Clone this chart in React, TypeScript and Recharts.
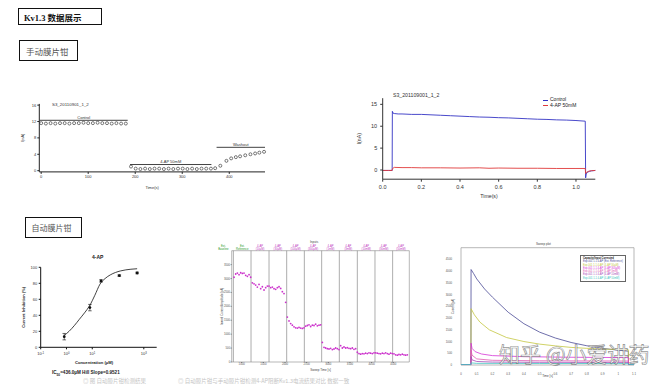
import React from 'react'
import {
  ComposedChart, Line, Scatter, XAxis, YAxis, ReferenceLine, ReferenceArea, ErrorBar, Legend,
} from 'recharts'

const FONT = '"Liberation Sans", Arial, "Noto Sans CJK SC", sans-serif'

// ---- manual patch clamp: time course (nA vs s)
const ctrlTime = [0, 10, 20, 30, 40, 50, 60, 70, 80, 90, 100, 110, 120, 130, 140, 150, 160, 170, 180]
const ctrlCurrent = [11.6, 11.5, 11.6, 11.5, 11.6, 11.6, 11.5, 11.6, 11.6, 11.7, 11.6, 11.6, 11.7, 11.6, 11.6, 11.5, 11.6, 11.5, 11.5]
const apTime = [191, 201, 211, 221, 231, 241, 251, 261, 271, 281, 291, 301, 311, 321, 331, 341, 351, 361]
const apCurrent = [1.0, 0.5, 0.4, 0.5, 0.4, 0.5, 0.5, 0.4, 0.5, 0.4, 0.5, 0.5, 0.4, 0.5, 0.4, 0.5, 0.5, 0.5]
const washTime = [370, 381, 394, 404, 414, 423, 434, 445, 455, 464, 474]
const washCurrent = [0.6, 1.2, 2.4, 3.0, 3.3, 3.5, 3.75, 4.0, 4.2, 4.4, 4.6]
const phaseNames = ['Control', '4-AP 50mM', 'Washout']
const phaseStart = [-3, 189, 373]
const phaseEnd = [184, 362, 476]
const phaseLevel = [12.3, 1.5, 5.7]

// ---- manual patch clamp: current traces
const traceNames = ['Control', '4-AP 50mM']
const traceColors = ['#3434c4', '#e03a3a']
const ctrlTraceT = [0, 0.03, 0.049, 0.05, 0.053, 0.06, 0.08, 0.1, 0.15, 0.2, 0.25, 0.3, 0.35, 0.4, 0.45, 0.5, 0.55, 0.6, 0.65, 0.7, 0.75, 0.8, 0.85, 0.9, 0.95, 1.0, 1.048, 1.05, 1.053, 1.06, 1.07, 1.08, 1.1]
const ctrlTraceI = [-0.1, -0.1, -0.1, 13.4, 13.0, 12.9, 12.8, 12.8, 12.7, 12.7, 12.6, 12.5, 12.4, 12.3, 12.2, 12.1, 12.05, 11.95, 11.9, 11.8, 11.7, 11.6, 11.55, 11.45, 11.4, 11.3, 11.15, -1.8, -0.9, -0.5, -0.3, -0.2, -0.1]
const apTraceT = [0, 0.03, 0.049, 0.05, 0.055, 0.06, 0.1, 0.15, 0.2, 0.3, 0.4, 0.5, 0.55, 0.6, 0.7, 0.8, 0.9, 1.0, 1.048, 1.05, 1.055, 1.065, 1.08, 1.1]
const apTraceI = [-0.1, -0.1, -0.1, 0.2, 0.5, 0.6, 0.55, 0.55, 0.5, 0.5, 0.45, 0.5, 0.4, 0.45, 0.4, 0.4, 0.35, 0.35, 0.35, -0.8, -0.5, -0.3, -0.15, -0.1]

// ---- automated: dose response
const doseConc = [0.82, 8.1, 21.9, 112, 550]
const doseInhibition = [13.3, 49.6, 83, 89.6, 92.9]
const doseErr = [4, 4, 1.5, 1, 1]
const fitConc = [0.83, 1.26, 2.0, 3.16, 5.0, 7.9, 12.6, 20, 31.6, 50, 79, 126, 200, 316, 550]
const fitInhibition = [15, 20, 27, 35, 43, 52, 65, 79, 86, 90.5, 93.5, 95.5, 96.8, 97.6, 98.2]
const logTicks = [0.1, 1, 10, 100, 1000]
const logTickExp = ['-1', '0', '1', '2', '3']

// ---- automated: amplitude per sweep
const sweepAmp = [
  3045, 3162, 3197, 3138, 3208, 3185, 3197, 3115, 3080, 3138, 3045,
  2845, 2810, 2764, 2693, 2787, 2635, 2705, 2588, 2670, 2729,
  2729, 2670, 2693, 2635, 2611, 2670, 2705, 2646, 2529, 2459, 2143,
  1616, 1475, 1382, 1323, 1265, 1230, 1218, 1241, 1218, 1206, 1230,
  1288, 1312, 1335, 1276, 1323, 1312, 1358, 1300, 1323, 1335,
  703, 527, 504, 480, 468, 492, 445, 468, 504, 480, 445,
  586, 504, 539, 504, 515, 492, 480, 504, 457, 480,
  351, 304, 281, 304, 293, 316, 304, 328, 316, 304, 328,
  328, 316, 304, 293, 316, 304, 328, 304, 281, 316, 304,
  293, 258, 246, 269, 258, 281, 258, 246, 258,
]
const sweepSeparators = [-0.4, 10.2, 21, 31.6, 42.2, 52.6, 63.2, 74, 84.6, 95.2]
const periodCenters = [-6.4, 4.9, 15.6, 26.3, 36.9, 47.4, 57.9, 68.6, 79.3, 89.9, 100.2]
const periodTop = ['Ext.', 'Ext.', '4-AP', '4-AP', '4-AP', '4-AP', '4-AP', '4-AP', '4-AP', '4-AP', '4-AP']
const periodBottom = ['Baseline', 'Reference', '(10µM)', '(30µM)', '(100µM)', '(300µM)', '(1mM)', '(3mM)', '(10mM)', '(30mM)', '(50mM)']
const periodColors = ['#2a9a2a', '#2a9a2a', '#c038c0', '#c038c0', '#c038c0', '#c038c0', '#c038c0', '#c038c0', '#c038c0', '#c038c0', '#c038c0']
const sweepTicks = [4.6, 17.6, 30.6, 43.6, 56.6, 69.6, 82.6, 95.6]
const sweepTickLabels = ['1000', '1500', '2000', '2500', '3000', '3500', '4000', '4500']
const sweepDomain = [-1.4, 105.2]

// ---- automated: sweep traces
const sweepNames = [
  'Exp.001 1.1 4-AP (Ext. Reference)',
  'Exp.001 1.1 4-AP (4-AP 30µM)',
  'Exp.001 1.1 4-AP (4-AP 300µM)',
  'Exp.001 1.1 4-AP (4-AP 3mM)',
  'Exp.001 1.1 4-AP (4-AP 10mM)',
  'Exp.001 1.1 4-AP (4-AP 50mM)',
]
const sweepColors = ['#4a4a96', '#c4c640', '#d633d6', '#e05ab4', '#a848b8', '#40c4c0']
const traceT = [
  [0, 0.063, 0.064, 0.08, 0.1, 0.15, 0.2, 0.3, 0.4, 0.5, 0.6, 0.7, 0.8, 0.9, 1.0, 1.064, 1.065, 1.1],
  [0, 0.063, 0.064, 0.085, 0.12, 0.18, 0.29, 0.4, 0.5, 0.6, 0.7, 0.8, 0.9, 1.0, 1.064, 1.065, 1.1],
  [0, 0.063, 0.064, 0.07, 0.09, 0.13, 0.2, 0.4, 0.7, 1.0, 1.064, 1.065, 1.1],
  [0, 0.063, 0.064, 0.07, 0.1, 0.2, 0.5, 1.0, 1.064, 1.065, 1.1],
  [0, 0.063, 0.064, 0.07, 0.1, 0.2, 0.5, 1.0, 1.064, 1.065, 1.1],
  [0, 0.063, 0.064, 0.1, 0.5, 1.0, 1.064, 1.065, 1.1],
]
const traceI = [
  [20, 20, 4070, 3900, 3670, 3240, 2890, 2250, 1760, 1400, 1150, 960, 820, 710, 630, 590, 20, 20],
  [20, 20, 2400, 2140, 1830, 1500, 1170, 1000, 890, 815, 750, 710, 680, 660, 650, 20, 20],
  [20, 20, 930, 710, 570, 470, 400, 355, 330, 318, 315, 20, 20],
  [20, 20, 640, 420, 260, 200, 180, 170, 168, 20, 20],
  [20, 20, 360, 220, 150, 125, 115, 110, 108, 20, 20],
  [20, 20, 90, 70, 65, 62, 60, 20, 20],
]

const tiny = (size: number, fill = '#333') => ({ fontSize: size, fill, fontFamily: FONT })

const openCircle = (p: any) => (
  <circle cx={p.cx} cy={p.cy} r={1.5} fill="none" stroke="#222" strokeWidth={0.6} />
)
const dotBlack = (p: any) => <circle cx={p.cx} cy={p.cy} r={1.4} fill="#111" />
const dotMagenta = (p: any) => <circle cx={p.cx} cy={p.cy} r={0.9} fill="#cc33cc" />

function ManualTimeCourse() {
  const ctrl = ctrlTime.map((t, i) => ({ x: t, y: ctrlCurrent[i] }))
  const ap = apTime.map((t, i) => ({ x: t, y: apCurrent[i] }))
  const wash = washTime.map((t, i) => ({ x: t, y: washCurrent[i] }))
  return (
    <div style={{ position: 'absolute', left: 0, top: 90 }}>
      <ComposedChart width={280} height={110} margin={{ top: 13.9, right: 15, bottom: 8.1, left: 19.3 }}>
        <XAxis dataKey="x" type="number" domain={[-4, 476]} ticks={[0, 100, 200, 300, 400]} height={20}
          tickSize={2} tickMargin={1} tick={tiny(4)} stroke="#222"
          label={{ value: 'Time(s)', position: 'insideBottom', offset: 3, ...tiny(4) }} />
        <YAxis dataKey="y" type="number" domain={[-0.3, 16.3]} ticks={[0, 2, 4, 6, 8, 10, 12, 14, 16]} width={20}
          tickSize={2} tickMargin={1} tick={tiny(4)} stroke="#222"
          label={{ value: 'I(nA)', angle: -90, position: 'insideLeft', offset: 3.4, style: { textAnchor: 'middle' }, ...tiny(4) }} />
        {phaseNames.map((n, i) => (
          <ReferenceLine key={n} segment={[{ x: phaseStart[i], y: phaseLevel[i] }, { x: phaseEnd[i], y: phaseLevel[i] }]}
            stroke="#111" strokeWidth={0.8}
            label={{ value: n, position: 'top', offset: 1.5, ...tiny(4) }} />
        ))}
        <Scatter name="Control" data={ctrl} dataKey="y" shape={openCircle} isAnimationActive={false} />
        <Scatter name="4-AP" data={ap} dataKey="y" shape={openCircle} isAnimationActive={false} />
        <Scatter name="Washout" data={wash} dataKey="y" shape={openCircle} isAnimationActive={false} />
      </ComposedChart>
      <div style={{ position: 'absolute', left: 52, top: 12, fontSize: 4.4, fontFamily: FONT, color: '#333', whiteSpace: 'nowrap' }}>
        S3_20110901_1_2
      </div>
    </div>
  )
}

function TraceLegend({ payload }: any) {
  const items = traceNames.map((n) => (payload || []).find((p: any) => p.value === n)).filter(Boolean)
  return (
    <div style={{ fontFamily: FONT, fontSize: 5, lineHeight: '5.3px', color: '#222' }}>
      {items.map((p: any) => (
        <div key={p.value} style={{ display: 'flex', alignItems: 'center', whiteSpace: 'nowrap' }}>
          <span style={{ display: 'inline-block', width: 5, height: 0, borderTop: `0.9px solid ${p.color}`, marginRight: 2 }} />
          {p.value}
        </div>
      ))}
    </div>
  )
}

function ManualTraces() {
  const ctrl = ctrlTraceT.map((t, i) => ({ x: t, y: ctrlTraceI[i] }))
  const ap = apTraceT.map((t, i) => ({ x: t, y: apTraceI[i] }))
  return (
    <div style={{ position: 'absolute', left: 330, top: 85 }}>
      <ComposedChart width={320} height={120} margin={{ top: 13.2, right: 54.7, bottom: 5.8, left: 22.7 }}>
        <XAxis dataKey="x" type="number" domain={[0, 1.1]} ticks={[0, 0.2, 0.4, 0.6, 0.8, 1.0]} height={20}
          tickFormatter={(v: number) => v.toFixed(1)} tickSize={2.5} tickMargin={3} tick={tiny(5.5)} stroke="#333"
          label={{ value: 'Time(s)', position: 'insideBottom', offset: 1.2, ...tiny(5.2) }} />
        <YAxis dataKey="y" type="number" domain={[-2.1, 16.4]} ticks={[0, 5, 10, 15]} width={30}
          tickSize={2.5} tickMargin={3} tick={tiny(5.5)} stroke="#333"
          label={{ value: 'I(nA)', angle: -90, position: 'insideLeft', offset: 6.3, style: { textAnchor: 'middle' }, ...tiny(5.2) }} />
        <Line name={traceNames[0]} data={ctrl} dataKey="y" type="linear" stroke={traceColors[0]} strokeWidth={0.9} dot={false} isAnimationActive={false} />
        <Line name={traceNames[1]} data={ap} dataKey="y" type="linear" stroke={traceColors[1]} strokeWidth={0.9} dot={false} isAnimationActive={false} />
        <Legend layout="vertical" align="center" verticalAlign="middle" content={<TraceLegend />}
          wrapperStyle={{ left: 213, top: 12.4, width: 'auto' }} />
      </ComposedChart>
      <div style={{ position: 'absolute', left: 63, top: 6.5, fontSize: 5.2, fontFamily: FONT, color: '#333', whiteSpace: 'nowrap' }}>
        S3_201109001_1_2
      </div>
    </div>
  )
}

function LogTick({ x, y, payload }: any) {
  const idx = logTicks.indexOf(payload.value)
  return (
    <text x={x} y={y + 4} textAnchor="middle" fontSize={4} fill="#333" fontFamily={FONT}>
      10<tspan dy={-1.6} fontSize={2.8}>{logTickExp[idx]}</tspan>
    </text>
  )
}

function DoseResponse() {
  const pts = doseConc.map((c, i) => ({ x: c, y: doseInhibition[i], err: doseErr[i] }))
  const fit = fitConc.map((c, i) => ({ x: c, y: fitInhibition[i] }))
  return (
    <div style={{ position: 'absolute', left: 0, top: 245 }}>
      <ComposedChart width={200} height={139} margin={{ top: 22.3, right: 43.3, bottom: 16.7, left: 10.7 }}>
        <XAxis dataKey="x" type="number" scale="log" domain={[0.1, 3162]} ticks={logTicks} allowDataOverflow height={20}
          tickSize={2} tick={<LogTick />} stroke="#111"
          label={{ value: 'Concentration (µM)', position: 'insideBottom', offset: 3.6, dx: -4.7, fontWeight: 'bold', ...tiny(4.2, '#222') }} />
        <YAxis dataKey="y" type="number" domain={[0, 100]} ticks={[0, 20, 40, 60, 80, 100]} width={30}
          tickSize={2} tickMargin={1.5} tick={tiny(4)} stroke="#111"
          label={{ value: 'Current Inhibition (%)', angle: -90, position: 'insideLeft', offset: 13.3, fontWeight: 'bold', style: { textAnchor: 'middle' }, ...tiny(4, '#222') }} />
        <Line data={fit} dataKey="y" type="monotone" stroke="#111" strokeWidth={0.8} dot={false} isAnimationActive={false} />
        <Scatter data={pts} dataKey="y" shape={dotBlack} isAnimationActive={false}>
          <ErrorBar dataKey="err" direction="y" width={1.8} stroke="#111" strokeWidth={0.6} />
        </Scatter>
      </ComposedChart>
      <div style={{ position: 'absolute', left: 92, top: 9, fontSize: 5, fontWeight: 'bold', fontFamily: FONT, color: '#222' }}>4-AP</div>
      <div style={{ position: 'absolute', left: 52, top: 125, fontSize: 4.6, fontWeight: 'bold', fontFamily: FONT, color: '#222', whiteSpace: 'nowrap' }}>
        IC<sub style={{ fontSize: 3.2 }}>50</sub>=436.0µM Hill Slope=0.9521
      </div>
    </div>
  )
}

function HeaderLabel({ viewBox, top, bottom, color }: any) {
  if (!viewBox) return null
  const x = viewBox.x
  const y = viewBox.y
  return (
    <text x={x} y={y - 3.8} textAnchor="middle" fontSize={2.7} fill={color} fontFamily={FONT}>
      <tspan x={x} dy={0}>{top}</tspan>
      <tspan x={x} dy={3}>{bottom}</tspan>
    </text>
  )
}

function SweepAmplitude() {
  const pts = sweepAmp.map((v, i) => ({ x: i, y: v }))
  return (
    <div style={{ position: 'absolute', left: 200, top: 225 }}>
      <ComposedChart width={225} height={159} margin={{ top: 25.7, right: 15.7, bottom: 10, left: 11.7 }}>
        <XAxis dataKey="x" type="number" domain={sweepDomain} ticks={sweepTicks} height={12} axisLine={false}
          tickFormatter={(v: number) => sweepTickLabels[sweepTicks.indexOf(v)]}
          tickSize={1} tickMargin={0.5} tick={tiny(2.8, '#555')} stroke="#777"
          label={{ value: 'Sweep Time [s]', position: 'insideBottom', offset: 3.5, ...tiny(3, '#444') }} />
        <YAxis dataKey="y" type="number" domain={[0, 4000]} ticks={[0, 500, 1000, 1500, 2000, 2500, 3000, 3500]} width={20}
          axisLine={false} tickSize={1} tickMargin={0.5} tick={tiny(2.8, '#555')} stroke="#777"
          label={{ value: 'Inward Current Amplitude [pA]', angle: -90, position: 'insideLeft', offset: 10.3, style: { textAnchor: 'middle' }, ...tiny(2.8, '#444') }} />
        <ReferenceArea x1={sweepDomain[0]} x2={sweepDomain[1]} y1={0} y2={4000} fill="none" stroke="#888" strokeWidth={0.6} />
        {sweepSeparators.map((s) => (
          <ReferenceLine key={s} x={s} stroke="#8a8a8a" strokeWidth={0.7} />
        ))}
        {periodCenters.map((c, i) => (
          <ReferenceLine key={'h' + i} x={c} stroke="none" ifOverflow="visible"
            label={<HeaderLabel top={periodTop[i]} bottom={periodBottom[i]} color={periodColors[i]} />} />
        ))}
        <Scatter data={pts} dataKey="y" shape={dotMagenta} isAnimationActive={false} />
      </ComposedChart>
      <div style={{ position: 'absolute', left: 110, top: 14.5, fontSize: 3, fontFamily: FONT, color: '#444' }}>Inputs</div>
    </div>
  )
}

function SweepLegend() {
  return (
    <div style={{ border: '0.5px solid #666', background: '#fff', padding: '1px 2px', fontSize: 2.6, lineHeight: '3.3px', fontFamily: FONT, whiteSpace: 'nowrap' }}>
      <div style={{ color: '#111', fontWeight: 'bold' }}>Capacity/Input Corrected</div>
      {sweepNames.map((n, i) => (
        <div key={n} style={{ color: sweepColors[i] }}>{n}</div>
      ))}
    </div>
  )
}

function SweepTraces() {
  const series = traceT.map((ts, k) => ts.map((t, i) => ({ x: t, y: traceI[k][i] })))
  return (
    <div style={{ position: 'absolute', left: 430, top: 230 }}>
      <ComposedChart width={230} height={154} margin={{ top: 17.7, right: 26, bottom: 5, left: 11 }}>
        <XAxis dataKey="x" type="number" domain={[0, 1.1]} ticks={[0, 0.1, 0.2, 0.3, 0.4, 0.5, 0.6, 0.7, 0.8, 0.9, 1.0, 1.1]} height={14}
          axisLine={false} tickLine={false} tickMargin={2} tick={tiny(2.8, '#555')}
          label={{ value: 'Time [s]', position: 'insideBottom', offset: 2.5, ...tiny(3, '#444') }} />
        <YAxis dataKey="y" type="number" domain={[0, 5000]} ticks={[0, 500, 1000, 1500, 2000, 2500, 3000, 3500, 4000, 4500]} width={20}
          axisLine={false} tickLine={false} tickMargin={3} tick={tiny(2.8, '#555')}
          label={{ value: 'Current [pA]', angle: -90, position: 'insideLeft', offset: 11.7, style: { textAnchor: 'middle' }, ...tiny(2.8, '#444') }} />
        <ReferenceArea x1={0} x2={1.1} y1={0} y2={5000} fill="none" stroke="#999" strokeWidth={0.7} />
        {series.map((d, k) => (
          <Line key={sweepNames[k]} name={sweepNames[k]} data={d} dataKey="y" type="linear" stroke={sweepColors[k]}
            strokeWidth={0.8} dot={false} isAnimationActive={false} />
        ))}
        <Legend layout="vertical" align="center" verticalAlign="middle" content={<SweepLegend />}
          wrapperStyle={{ left: 150, top: 25, width: 'auto' }} />
      </ComposedChart>
      <div style={{ position: 'absolute', left: 106, top: 12, fontSize: 3, fontFamily: FONT, color: '#444' }}>Sweep plot</div>
    </div>
  )
}

const boxStyle = (left: number, top: number, width: number, height: number, bw: number): React.CSSProperties => ({
  position: 'absolute', left, top, width: width - 2 * bw, height: height - 2 * bw, border: `${bw}px solid #111`,
  display: 'flex', alignItems: 'center', boxSizing: 'content-box',
})

const captionStyle = (left: number): React.CSSProperties => ({
  position: 'absolute', left, top: 377.5, fontSize: 5.5, lineHeight: '6px', fontFamily: '"Noto Sans CJK SC", sans-serif',
  color: '#c4c4c4', whiteSpace: 'nowrap',
})

export default function App() {
  return (
    <div style={{ position: 'absolute', left: 0, top: 0, width: 660, height: 384, background: '#fff', overflow: 'hidden' }}>
      <div style={boxStyle(18, 8, 85, 18, 1.5)}>
        <span style={{ marginLeft: 5, fontSize: 8.5, fontWeight: 'bold', fontFamily: '"Liberation Serif", "Noto Sans CJK SC", serif', color: '#111', whiteSpace: 'nowrap' }}>
          Kv1.3 数据展示
        </span>
      </div>
      <div style={boxStyle(19, 40, 60, 22, 1.5)}>
        <span style={{ marginLeft: 6, fontSize: 8.5, fontFamily: '"Noto Sans CJK SC", sans-serif', color: '#555', whiteSpace: 'nowrap' }}>手动膜片钳</span>
      </div>
      <div style={boxStyle(25, 217, 58, 22, 1.5)}>
        <span style={{ marginLeft: 5.5, fontSize: 8, fontFamily: '"Noto Sans CJK SC", sans-serif', color: '#555', whiteSpace: 'nowrap' }}>自动膜片钳</span>
      </div>

      <ManualTimeCourse />
      <ManualTraces />
      <DoseResponse />
      <SweepAmplitude />
      <SweepTraces />

      <div style={captionStyle(83)}>◎ 图 自动膜片钳检测结果</div>
      <div style={captionStyle(178)}>◎ 自动膜片钳与手动膜片钳检测4-AP阻断Kv1.3电流结果对比 数据一致</div>

      <div style={{
        position: 'absolute', left: 499, top: 341, fontSize: 21, lineHeight: '24px', fontFamily: '"Noto Sans CJK SC", sans-serif',
        color: 'rgba(255,255,255,0.85)', WebkitTextStroke: '0.7px rgba(70,70,70,0.6)', whiteSpace: 'nowrap',
      }}>
        知乎 @小爱讲药
      </div>
    </div>
  )
}
